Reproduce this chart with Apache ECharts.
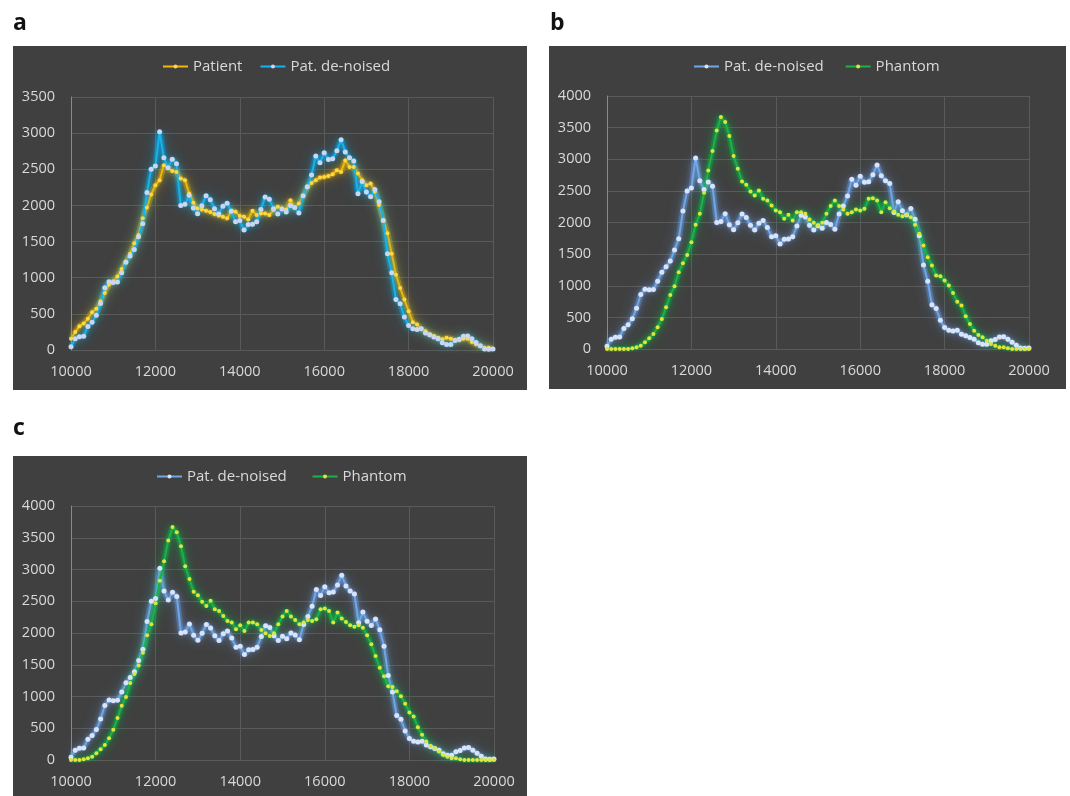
<!DOCTYPE html>
<html>
<head>
<meta charset="utf-8">
<script src="https://cdn.jsdelivr.net/npm/echarts@6/dist/echarts.min.js"></script>
<style>
  html, body { margin: 0; padding: 0; background: #ffffff; }
  #chart { width: 1070px; height: 796px; }
</style>
</head>
<body>
<div id="chart"></div>
<script>
// Sample positions shared by every curve (step 100)
const positions = [
  10000, 10100, 10200, 10300, 10400, 10500, 10600, 10700, 10800, 10900,
  11000, 11100, 11200, 11300, 11400, 11500, 11600, 11700, 11800, 11900,
  12000, 12100, 12200, 12300, 12400, 12500, 12600, 12700, 12800, 12900,
  13000, 13100, 13200, 13300, 13400, 13500, 13600, 13700, 13800, 13900,
  14000, 14100, 14200, 14300, 14400, 14500, 14600, 14700, 14800, 14900,
  15000, 15100, 15200, 15300, 15400, 15500, 15600, 15700, 15800, 15900,
  16000, 16100, 16200, 16300, 16400, 16500, 16600, 16700, 16800, 16900,
  17000, 17100, 17200, 17300, 17400, 17500, 17600, 17700, 17800, 17900,
  18000, 18100, 18200, 18300, 18400, 18500, 18600, 18700, 18800, 18900,
  19000, 19100, 19200, 19300, 19400, 19500, 19600, 19700, 19800, 19900,
  20000
];

const patient = [
  156, 248, 330, 367, 431, 523, 569, 674, 789, 904,
  950, 1018, 1119, 1225, 1330, 1477, 1592, 1821, 1972, 2151,
  2280, 2349, 2555, 2518, 2477, 2463, 2372, 2349, 2165, 2037,
  1959, 1945, 1927, 1908, 1881, 1862, 1844, 1821, 1927, 1913,
  1853, 1844, 1807, 1927, 1867, 1890, 1890, 1867, 1936, 1982,
  1959, 1945, 2073, 1972, 2028, 2128, 2248, 2312, 2349, 2385,
  2394, 2408, 2431, 2486, 2463, 2624, 2532, 2532, 2440, 2349,
  2280, 2303, 2188, 2005, 1798, 1615, 1330, 1041, 858, 697,
  537, 385, 353, 294, 261, 216, 193, 170, 147, 170,
  156, 138, 138, 156, 156, 110, 78, 55, 32, 32,
  18
];

const patDenoised = [
  45, 155, 185, 190, 325, 385, 480, 645, 860, 945,
  935, 940, 1070, 1215, 1300, 1390, 1565, 1745, 2180, 2500,
  2545, 3020, 2660, 2520, 2640, 2575, 2000, 2015, 2140, 1965,
  1885, 1995, 2135, 2080, 1955, 1880, 1990, 2030, 1920, 1775,
  1790, 1660, 1735, 1740, 1775, 1945, 2115, 2085, 1955, 1880,
  1950, 1910, 2000, 1970, 1895, 2135, 2260, 2420, 2685, 2590,
  2730, 2635, 2645, 2755, 2910, 2740, 2660, 2615, 2160, 2330,
  2185, 2120, 2220, 2050, 1790, 1330, 1070, 700, 640, 455,
  340, 295, 285, 295, 235, 210, 180, 155, 100, 75,
  75, 130, 150, 190, 195, 155, 105, 60, 15, 10,
  15
];

const phantomB = [
  0, 0, 0, 0, 0, 0, 10, 26, 53, 106,
  169, 237, 343, 475, 660, 855, 992, 1214, 1356, 1488,
  1689, 1963, 2137, 2470, 2823, 3129, 3456, 3668, 3588, 3367,
  3050, 2850, 2649, 2596, 2491, 2427, 2507, 2375, 2348, 2269,
  2190, 2164, 2058, 2121, 2032, 2164, 2164, 2137, 2047, 1995,
  1953, 1995, 2137, 2259, 2348, 2259, 2206, 2137, 2164, 2206,
  2190, 2216, 2375, 2385, 2348, 2164, 2322, 2227, 2174, 2121,
  2100, 2121, 2084, 1963, 1821, 1636, 1451, 1319, 1161, 1150,
  1082, 1003, 887, 749, 686, 517, 396, 290, 222, 185,
  132, 79, 53, 26, 26, 10, 0, 0, 0, 0,
  0
];

const phantomC = [
  0, 0, 0, 10, 26, 53, 106, 169, 237, 343,
  475, 660, 855, 992, 1214, 1356, 1488, 1689, 1963, 2137,
  2470, 2823, 3129, 3456, 3668, 3588, 3367, 3050, 2850, 2649,
  2596, 2491, 2427, 2507, 2375, 2348, 2269, 2190, 2164, 2058,
  2121, 2032, 2164, 2164, 2137, 2047, 1995, 1953, 1995, 2137,
  2259, 2348, 2259, 2206, 2137, 2164, 2206, 2190, 2216, 2375,
  2385, 2348, 2164, 2322, 2227, 2174, 2121, 2100, 2121, 2084,
  1963, 1821, 1636, 1451, 1319, 1161, 1150, 1082, 1003, 887,
  749, 686, 517, 396, 290, 222, 185, 132, 79, 53,
  26, 26, 10, 0, 0, 0, 0, 0, 0, 0,
  0
];

const panelLetters = ['a', 'b', 'c'];
const xTicks = [10000, 12000, 14000, 16000, 18000, 20000];
const yMaxA = 3500;
const yMaxBC = 4000;

const FONT = '"Open Sans", "Noto Sans", sans-serif';
const PANEL_BG = '#404040';
const GRID_LINE = '#5a5a5a';
const LABEL = '#d9d9d9';

const styles = {
  patient:  { line: '#f4b800', dot: '#ffd840', glow: [255, 196, 0] },
  denoA:    { line: '#18b2ee', dot: '#cdd5f4', glow: [0, 186, 255] },
  denoBC:   { line: '#6ea8ea', dot: '#d8e4fb', glow: [120, 175, 255] },
  phantom:  { line: '#1cb24a', dot: '#e2e43e', glow: [0, 200, 70] }
};

function rgba(c, a) {
  return 'rgba(' + c[0] + ',' + c[1] + ',' + c[2] + ',' + a + ')';
}

function pairs(values) {
  return positions.map((x, i) => [x, values[i]]);
}

// soft halo drawn beneath each curve
function haloSeries(values, gridIdx, st) {
  return {
    type: 'line',
    name: '',
    xAxisIndex: gridIdx,
    yAxisIndex: gridIdx,
    data: pairs(values),
    symbol: 'none',
    silent: true,
    lineStyle: { color: rgba(st.glow, 0.28), width: 6, shadowBlur: 14, shadowColor: rgba(st.glow, 0.8) },
    emphasis: { disabled: true },
    z: 2
  };
}

function lineSeries(name, values, gridIdx, st, size) {
  return {
    type: 'line',
    name: name,
    xAxisIndex: gridIdx,
    yAxisIndex: gridIdx,
    data: pairs(values),
    symbol: 'circle',
    symbolSize: size,
    showAllSymbol: true,
    lineStyle: { color: st.line, width: 2, shadowBlur: 6, shadowColor: rgba(st.glow, 0.9) },
    itemStyle: { color: st.dot, borderWidth: 0 },
    emphasis: { disabled: true },
    z: 3
  };
}

const gridBoxes = [
  { left: 71, top: 97, width: 422, height: 253 },
  { left: 607, top: 96, width: 422, height: 253 },
  { left: 71, top: 506, width: 423, height: 254 }
];

function xAxisFor(i) {
  return {
    type: 'value', gridIndex: i, min: xTicks[0], max: xTicks[xTicks.length - 1], interval: 2000,
    axisLine: { show: false }, axisTick: { show: false },
    splitLine: { show: true, lineStyle: { color: GRID_LINE, width: 1 } },
    axisLabel: { color: LABEL, fontFamily: FONT, fontSize: 14.5, margin: 14, formatter: v => String(v) }
  };
}
function yAxisFor(i, max) {
  return {
    type: 'value', gridIndex: i, min: 0, max: max, interval: 500,
    axisLine: { show: true, lineStyle: { color: '#8a8a8a', width: 1 } },
    axisTick: { show: false },
    splitLine: { show: true, lineStyle: { color: GRID_LINE, width: 1 } },
    axisLabel: { color: LABEL, fontFamily: FONT, fontSize: 14.5, margin: 16, formatter: v => String(v) }
  };
}

function legendFor(left, top, names) {
  return {
    show: true, left: left, top: top, orient: 'horizontal', padding: 0,
    data: names.map(n => ({ name: n })),
    itemWidth: 25, itemHeight: 5, itemGap: 17,
    textStyle: { color: LABEL, fontFamily: FONT, fontSize: 15 },
    lineStyle: { shadowBlur: 0 }, itemStyle: { shadowBlur: 0 },
    selectedMode: false
  };
}

const chart = echarts.init(document.getElementById('chart'), null, { renderer: 'canvas' });

const option = {
  animation: false,
  backgroundColor: '#ffffff',
  textStyle: { fontFamily: FONT },
  grid: gridBoxes.map(g => Object.assign({ outerBoundsMode: 'none', containLabel: false }, g)),
  xAxis: [xAxisFor(0), xAxisFor(1), xAxisFor(2)],
  yAxis: [yAxisFor(0, yMaxA), yAxisFor(1, yMaxBC), yAxisFor(2, yMaxBC)],
  series: [
    haloSeries(patient, 0, styles.patient),
    haloSeries(patDenoised, 0, styles.denoA),
    haloSeries(patDenoised, 1, styles.denoBC),
    haloSeries(phantomB, 1, styles.phantom),
    haloSeries(patDenoised, 2, styles.denoBC),
    haloSeries(phantomC, 2, styles.phantom),
    lineSeries('Patient', patient, 0, styles.patient, 4),
    lineSeries('Pat. de-noised', patDenoised, 0, styles.denoA, 5),
    lineSeries('Pat. de-noised ', patDenoised, 1, styles.denoBC, 5),
    lineSeries('Phantom', phantomB, 1, styles.phantom, 4),
    lineSeries('Pat. de-noised  ', patDenoised, 2, styles.denoBC, 5),
    lineSeries('Phantom ', phantomC, 2, styles.phantom, 4)
  ],
  graphic: [
    { type: 'rect', z: -10, silent: true, shape: { x: 13, y: 46, width: 514, height: 344 }, style: { fill: PANEL_BG } },
    { type: 'rect', z: -10, silent: true, shape: { x: 549, y: 46, width: 517, height: 343 }, style: { fill: PANEL_BG } },
    { type: 'rect', z: -10, silent: true, shape: { x: 13, y: 456, width: 514, height: 345 }, style: { fill: PANEL_BG } },
    { type: 'text', x: 13, y: 23, style: { text: panelLetters[0], fill: '#111', font: 'bold 23px ' + FONT, verticalAlign: 'middle' } },
    { type: 'text', x: 550, y: 23, style: { text: panelLetters[1], fill: '#111', font: 'bold 23px ' + FONT, verticalAlign: 'middle' } },
    { type: 'text', x: 13, y: 428, style: { text: panelLetters[2], fill: '#111', font: 'bold 23px ' + FONT, verticalAlign: 'middle' } }
  ],
  // one legend per panel; trailing spaces keep the repeated series names distinct
  legend: [
    legendFor(162, 59, ['Patient', 'Pat. de-noised']),
    legendFor(693, 59, ['Pat. de-noised ', 'Phantom']),
    legendFor(156, 469, ['Pat. de-noised  ', 'Phantom '])
  ]
};

chart.setOption(option);
</script>
</body>
</html>
